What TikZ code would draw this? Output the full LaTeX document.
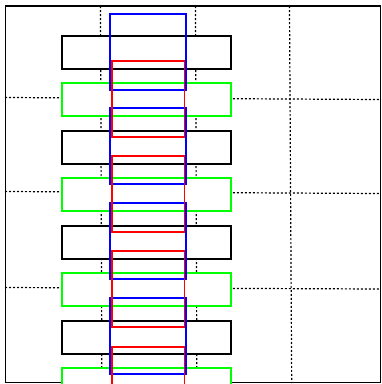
\documentclass[tikz,border=0pt]{standalone}
\usepackage{tikz}
\usetikzlibrary{positioning}

\definecolor{cellred}{RGB}{255,0,0}
\definecolor{cellblue}{RGB}{0,0,255}
\definecolor{spacergreen}{RGB}{0,255,0}

\begin{document}
\begin{tikzpicture}[x=1pt, y=-1pt,
            grid line/.style={black, line width=1.2pt, dash pattern=on 2pt off 2pt},
            frame/.style={draw=black, line width=1.4pt},
            plate/.style={draw=black, fill=white, line width=1.4pt},
            spacer/.style={draw=spacergreen, fill=white, line width=1.4pt},
            redcell/.style={draw=cellred, line width=1.4pt},
            bluecell/.style={draw=cellblue, line width=1.4pt}]

            \useasboundingbox (0,0) rectangle (382,384);

            % Dotted grid
            \draw[grid line] (100.5,6) -- (101.9,383);
            \draw[grid line] (195.5,6) -- (196.9,383);
            \draw[grid line] (289.5,6) -- (291.7,383);
            \draw[grid line] (5,97.5) -- (380,99.5);
            \draw[grid line] (5,191.5) -- (380,193.5);
            \draw[grid line] (5,287.5) -- (380,289);

            % Outer frame
            \draw[frame] (5.5,6) rectangle (380.5,382.5);

            \begin{scope}
            \clip (5,6) rectangle (380.5,383);

            % Black plates
            \draw[plate] (62,36) rectangle (231,69);
            \draw[plate] (62,131) rectangle (231,164);
            \draw[plate] (62,226) rectangle (231,259);
            \draw[plate] (62,321) rectangle (231,354);

            % Green spacers
            \draw[spacer] (62,83) rectangle (231,116);
            \draw[spacer] (62,178) rectangle (231,211);
            \draw[spacer] (62,273) rectangle (231,306);
            \draw[spacer] (62,368) rectangle (231,401);

            % Blue cells
            \draw[bluecell] (110,14) rectangle (186,90);
            \draw[bluecell] (110,108) rectangle (186,184);
            \draw[bluecell] (110,203) rectangle (186,279);
            \draw[bluecell] (110,298) rectangle (186,374);

            % Red cells
            \draw[redcell] (112,61) rectangle (184.5,137);
            \draw[redcell] (112,156) rectangle (184.5,232);
            \draw[redcell] (112,251) rectangle (184.5,327);
            \draw[redcell] (112,347) rectangle (184.5,423);
            \end{scope}
        \end{tikzpicture}
\end{document}
